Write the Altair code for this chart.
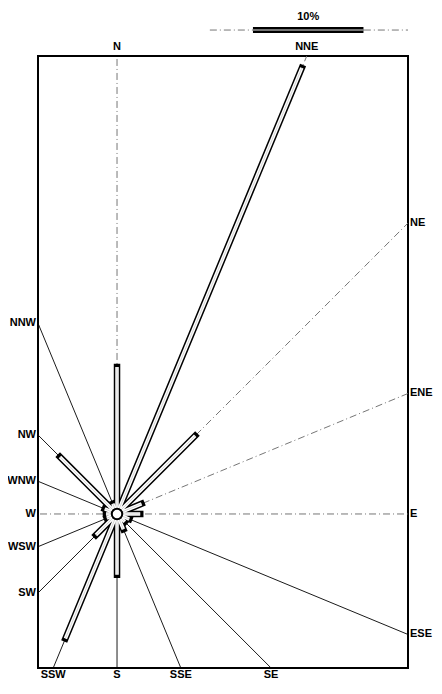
import altair as alt
import pandas as pd
import numpy as np

# Wind rose data (percent frequency per direction)
directions = ["N", "NNE", "NE", "ENE", "E", "ESE", "SE", "SSE",
              "S", "SSW", "SW", "WSW", "W", "WNW", "NW", "NNW"]
freq = [13.3, 43.7, 10.0, 2.4, 2.1, 1.2, 1.0, 1.5,
        5.5, 12.2, 2.7, 1.0, 1.0, 1.2, 7.3, 1.0]
dashed_dirs = ["N", "NNE", "NE", "ENE", "E", "W"]
scale_pct = 10

# frame extents in percent units (center of the rose = 0,0)
x_min, x_max = -7.15, 26.33
y_min, y_max = -13.94, 41.45

rows = []
for i, (d, f) in enumerate(zip(directions, freq)):
    a = np.deg2rad(i * 22.5)
    dx, dy = np.sin(a), np.cos(a)
    cands = []
    if dx > 1e-9: cands.append((x_max / dx, "right"))
    if dx < -1e-9: cands.append((x_min / dx, "left"))
    if dy > 1e-9: cands.append((y_max / dy, "top"))
    if dy < -1e-9: cands.append((y_min / dy, "bottom"))
    t, side = min(cands, key=lambda c: c[0])
    rows.append(dict(dir=d, freq=f, x0=0.0, y0=0.0,
                     xe=t * dx, ye=t * dy, side=side,
                     bx=f * dx, by=f * dy,
                     style="dash" if d in dashed_dirs else "solid"))
df = pd.DataFrame(rows)

xs = alt.Scale(domain=[x_min, x_max], nice=False, zero=False)
ys = alt.Scale(domain=[y_min, y_max], nice=False, zero=False)
X = lambda f: alt.X(f, type="quantitative", scale=xs, axis=None)
Y = lambda f: alt.Y(f, type="quantitative", scale=ys, axis=None)

base = alt.Chart(df)

solid_lines = base.transform_filter(alt.datum.style == "solid").mark_rule(
    color="black", strokeWidth=0.9).encode(x=X("x0"), y=Y("y0"), x2="xe", y2="ye")
dash_lines = base.transform_filter(alt.datum.style == "dash").mark_rule(
    color="#666", strokeWidth=0.9, strokeDash=[7, 3, 1, 3]).encode(
    x=X("x0"), y=Y("y0"), x2="xe", y2="ye")

bar_out = base.mark_rule(color="black", strokeWidth=6.5, strokeCap="square").encode(
    x=X("x0"), y=Y("y0"), x2="bx", y2="by")
bar_in = base.mark_rule(color="white", strokeWidth=3.5, strokeCap="butt").encode(
    x=X("x0"), y=Y("y0"), x2="bx", y2="by")
bar_mid = base.mark_rule(color="#bbb", strokeWidth=0.6).encode(
    x=X("x0"), y=Y("y0"), x2="bx", y2="by")

calm_df = pd.DataFrame({"x": [0.0], "y": [0.0]})
calm = alt.Chart(calm_df).mark_point(
    shape="circle", size=110, filled=True, fill="white", stroke="black",
    strokeWidth=2, opacity=1).encode(x=X("x"), y=Y("y"))

font = dict(font="Liberation Sans", fontWeight="bold", fontSize=11, color="black")
lab_top = base.transform_filter(alt.datum.side == "top").mark_text(
    align="center", baseline="bottom", dy=-4, **font).encode(
    x=X("xe"), y=Y("ye"), text="dir")
lab_bot = base.transform_filter(alt.datum.side == "bottom").mark_text(
    align="center", baseline="top", dy=1, **font).encode(
    x=X("xe"), y=Y("ye"), text="dir")
lab_right = base.transform_filter(alt.datum.side == "right").mark_text(
    align="left", baseline="middle", dx=2, **font).encode(
    x=X("xe"), y=Y("ye"), text="dir")
lab_left = base.transform_filter(alt.datum.side == "left").mark_text(
    align="right", baseline="middle", dx=-2, **font).encode(
    x=X("xe"), y=Y("ye"), text="dir")

# scale bar (legend) above the frame
sb_start, sb_y = 12.3, 43.8
sb_df = pd.DataFrame({"x": [sb_start], "x2": [sb_start + scale_pct], "y": [sb_y],
                      "lx": [8.4], "lx2": [x_max],
                      "tx": [sb_start + scale_pct / 2], "ty": [sb_y + 0.7],
                      "label": [f"{scale_pct}%"]})
sb_line = alt.Chart(sb_df).mark_rule(color="#666", strokeWidth=0.9,
                                     strokeDash=[7, 3, 1, 3]).encode(
    x=X("lx"), x2="lx2", y=Y("y"))
sb_out = alt.Chart(sb_df).mark_rule(color="black", strokeWidth=6).encode(
    x=X("x"), x2="x2", y=Y("y"))
sb_in = alt.Chart(sb_df).mark_rule(color="#999", strokeWidth=1.5).encode(
    x=X("x"), x2="x2", y=Y("y"))
sb_text = alt.Chart(sb_df).mark_text(align="center", baseline="bottom", **font).encode(
    x=X("tx"), y=Y("ty"), text="label")

chart = alt.layer(
    solid_lines, dash_lines, bar_out, bar_in, bar_mid, calm,
    lab_top, lab_bot, lab_right, lab_left,
    sb_line, sb_out, sb_in, sb_text,
).properties(
    width=370, height=612,
    background="white",
    autosize=alt.AutoSizeParams(type="none"),
    padding={"left": 30, "top": 48, "right": 26, "bottom": 13},
).configure_view(stroke="black", strokeWidth=2)

chart.save("out.html", embed_options={"renderer": "svg", "actions": False})
